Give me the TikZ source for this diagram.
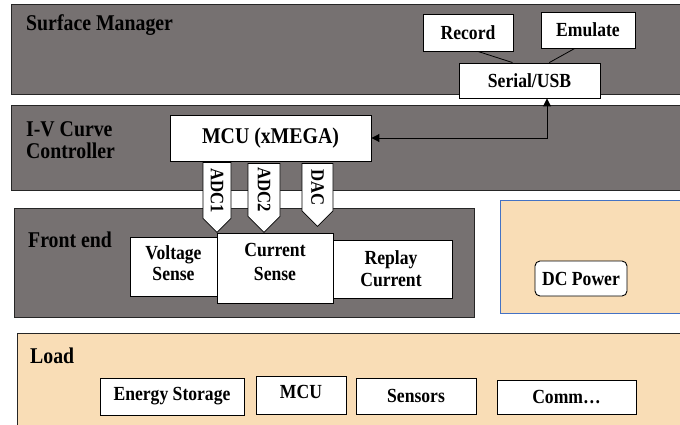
\documentclass[tikz,border=0pt]{standalone}
\usepackage{fontspec}
\setmainfont{Liberation Serif}[FakeStretch=0.88]
\usetikzlibrary{shapes.symbols,arrows.meta,calc}
\definecolor{panelgray}{HTML}{767171}
\definecolor{peach}{HTML}{F9DDB6}
\definecolor{dcblue}{HTML}{4472C4}
\begin{document}
\begin{tikzpicture}[x=1pt,y=-1pt,
  panel/.style={draw=black!85, line width=1.2pt, fill=panelgray, inner sep=0pt, anchor=north west},
  lpanel/.style={draw=black!85, line width=1pt, fill=peach, inner sep=0pt, anchor=north west},
  box/.style={draw=black, line width=0.9pt, fill=white, inner sep=0pt, align=center, font=\bfseries\fontsize{20}{22}\selectfont},
  boxtext/.style={inner sep=0pt, align=center, font=\bfseries\fontsize{20}{24}\selectfont},
  plabel/.style={inner sep=0pt, anchor=base west, align=left, font=\bfseries\fontsize{22.5}{22}\selectfont},
  sig/.style={shape=signal, signal to=east, draw=black, line width=0.8pt, fill=white, rotate=-90, inner sep=0pt, anchor=west, font=\bfseries\fontsize{19}{19}\selectfont},
  link/.style={draw=black, line width=0.8pt},
  conn/.style={draw=black, line width=1pt, {Triangle[width=8pt,length=8pt]}-{Triangle[width=8pt,length=8pt]}}
]
\useasboundingbox (0,0) rectangle (680,424);
\clip (0,0) rectangle (680,424);
% panels
\node[panel, minimum width=679, minimum height=90] (sm) at (11,4) {};
\node[panel, minimum width=679, minimum height=85] (iv) at (11,105) {};
\node[panel, minimum width=460, minimum height=109] (fe) at (14,208) {};
\node[lpanel, draw=dcblue, line width=0.8pt, minimum width=190, minimum height=113] (dc) at (500,200) {};
\node[lpanel, minimum width=680, minimum height=100] (ld) at (17,333) {};
% panel labels
\node[plabel] (smlab) at (26,30) {Surface Manager};
\node[plabel, anchor=north west] (ivlab) at (26,121) {I-V Curve\\Controller};
\node[plabel] (felab) at (28,247) {Front end};
\node[plabel] (ldlab) at (30,363) {Load};
% surface manager boxes
\node[box, minimum width=90, minimum height=37] (rec) at (468,32.5) {Record};
\node[box, minimum width=94, minimum height=36] (emu) at (588,30) {Emulate};
\node[box, minimum width=141, minimum height=35] (ser) at (529.5,80.5) {Serial/USB};
\draw[link] ($(rec.south west)!0.61!(rec.south east)$) -- ($(ser.north west)!0.38!(ser.north east)$);
\draw[link] ($(emu.south west)!0.36!(emu.south east)$) -- ($(ser.north west)!0.64!(ser.north east)$);
% controller
\node[box, minimum width=201, minimum height=46, font=\bfseries\fontsize{22.5}{24}\selectfont] (mcu) at (270.5,138) {MCU (xMEGA)};
\coordinate (bend) at (547,138);
\draw[conn] (ser.south -| bend) |- (mcu.east);
% front end
\node[box, minimum width=122, minimum height=58] (repl) at (391,269) {Replay\\Current};
\node[box, minimum width=87, minimum height=59] (volt) at (173.5,266.5) {};
\node[boxtext, font=\bfseries\fontsize{20}{21}\selectfont] (voltt) at (173.5,263) {Voltage\\Sense};
\node[box, minimum width=116, minimum height=70] (curr) at (275,268) {};
\node[boxtext] (currt) at (275,262) {Current\\Sense};
% signals
\node[sig, minimum width=70, minimum height=28] (adc1) at (217,162) {ADC1};
\node[sig, minimum width=69, minimum height=32] (adc2) at (264,163) {ADC2};
\node[sig, minimum width=63, minimum height=31] (dac) at (317.5,163) {DAC};
% dc power
\node[box, rounded corners=5pt, minimum width=92, minimum height=35] (dcp) at (581,278.5) {DC Power};
% load
\node[box, minimum width=144, minimum height=37] (es) at (172,396.5) {Energy Storage};
\node[box, minimum width=90, minimum height=38] (lmcu) at (301,395) {};
\node[boxtext] (lmcut) at (301,392) {MCU};
\node[box, minimum width=120, minimum height=36] (sens) at (416,396) {Sensors};
\node[box, minimum width=139, minimum height=34] (comm) at (566.5,397) {Comm…};
\end{tikzpicture}
\end{document}
